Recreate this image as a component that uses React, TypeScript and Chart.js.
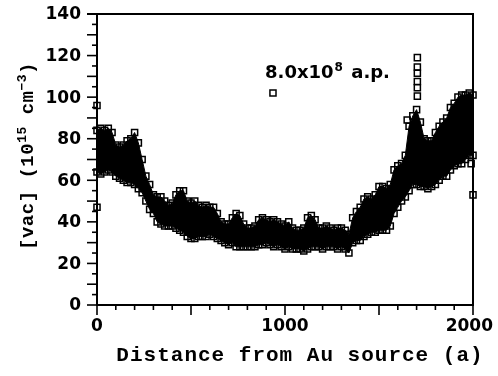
import { useEffect, useRef } from "react";
import { Chart, registerables } from "chart.js";

Chart.register(...registerables);

// Distance from Au source (a), sampled along the profile
const distance = [
  0, 20, 40, 60, 80, 100, 120, 140, 160, 180,
  200, 220, 240, 260, 280, 300, 320, 340, 360, 380,
  400, 420, 440, 460, 480, 500, 520, 540, 560, 580,
  600, 620, 640, 660, 680, 700, 720, 740, 760, 780,
  800, 820, 840, 860, 880, 900, 920, 940, 960, 980,
  1000, 1020, 1040, 1060, 1080, 1100, 1120, 1140, 1160, 1180,
  1200, 1220, 1240, 1260, 1280, 1300, 1320, 1340, 1360, 1380,
  1400, 1420, 1440, 1460, 1480, 1500, 1520, 1540, 1560, 1580,
  1600, 1620, 1640, 1660, 1680, 1700, 1720, 1740, 1760, 1780,
  1800, 1820, 1840, 1860, 1880, 1900, 1920, 1940, 1960, 1980,
  2000,
];

// Upper edge of the scatter band of [vac] (10^15 cm^-3)
const vacUpper = [
  84, 85, 84, 85, 83, 77, 76, 77, 79, 80,
  83, 78, 70, 62, 58, 53, 52, 52, 50, 48,
  49, 53, 55, 55, 50, 49, 50, 48, 47, 48,
  47, 47, 44, 40, 39, 39, 42, 44, 43, 39,
  37, 37, 38, 41, 42, 41, 40, 41, 40, 39,
  38, 40, 37, 36, 36, 37, 42, 43, 41, 37,
  37, 38, 37, 36, 37, 37, 36, 34, 42, 45,
  47, 51, 52, 51, 53, 57, 57, 56, 58, 65,
  67, 68, 72, 86, 91, 94, 88, 80, 79, 79,
  83, 86, 88, 90, 95, 97, 100, 101, 101, 102,
  101,
];

// Lower edge of the scatter band of [vac] (10^15 cm^-3)
const vacLower = [
  64, 63, 64, 65, 64, 62, 61, 60, 59, 59,
  58, 56, 54, 50, 46, 44, 40, 39, 38, 38,
  38, 37, 36, 35, 33, 32, 32, 33, 33, 33,
  34, 33, 32, 31, 30, 29, 30, 28, 28, 28,
  28, 28, 28, 29, 29, 30, 29, 28, 29, 28,
  27, 28, 27, 27, 27, 26, 27, 28, 28, 28,
  27, 28, 28, 28, 27, 28, 27, 25, 30, 31,
  31, 33, 34, 35, 35, 36, 36, 36, 38, 44,
  47, 50, 52, 55, 58, 58, 57, 57, 56, 57,
  58, 60, 62, 62, 65, 67, 68, 68, 70, 72,
  72,
];

// Isolated points outside the band
const outlierX = [0, 0, 1704, 1704, 1704, 1704, 1704, 1704, 1650, 1990, 2000];
const outlierY = [96, 47, 119, 114.5, 111.5, 107.5, 104.5, 100.5, 89, 68, 53];

// Legend sample square and its label
const legendMarkerX = [936];
const legendMarkerY = [102];
const legendTextMain = "8.0x10";
const legendTextSup = "8";
const legendTextTail = " a.p.";
const legendTextX = 894;
const legendTextY = 109;

// Axes
const xMin = 0;
const xMax = 2000;
const yMin = 0;
const yMax = 140;
const xTickLabels = [0, 1000, 2000];
const yTickLabels = [0, 20, 40, 60, 80, 100, 120, 140];
const xMinorStep = 100;
const xMajorStep = 500;
const yMinorStep = 5;
const yMajorStep = 10;
const xTitle = "Distance from Au source (a)";
const yTitleParts = [
  { text: "[vac] (10", sup: false },
  { text: "15", sup: true },
  { text: " cm", sup: false },
  { text: "\u22123", sup: true },
  { text: ")", sup: false },
];

const W = 498;
const H = 376;

const framePlugin = {
  id: "framePlugin",
  afterDraw(chart: any) {
    const { ctx, chartArea } = chart;
    const xs = chart.scales.x;
    const ys = chart.scales.y;
    const { left, right, top, bottom } = chartArea;
    ctx.save();
    ctx.strokeStyle = "#000";
    ctx.fillStyle = "#000";
    ctx.lineWidth = 2;
    ctx.lineCap = "square";
    // frame
    ctx.beginPath();
    ctx.moveTo(left - 9, top);
    ctx.lineTo(right, top);
    ctx.lineTo(right, bottom);
    ctx.lineTo(left, bottom);
    ctx.lineTo(left, top);
    ctx.stroke();

    ctx.lineWidth = 1.6;
    ctx.lineCap = "butt";
    // x ticks
    for (let v = xMin; v <= xMax; v += xMinorStep) {
      const px = xs.getPixelForValue(v);
      const len = v % xMajorStep === 0 ? 10 : 5;
      ctx.beginPath();
      ctx.moveTo(px, bottom);
      ctx.lineTo(px, bottom + len);
      ctx.stroke();
    }
    // y ticks
    for (let v = yMin; v <= yMax; v += yMinorStep) {
      const py = ys.getPixelForValue(v);
      const len = v % yMajorStep === 0 ? 10 : 5;
      ctx.beginPath();
      ctx.moveTo(left, py);
      ctx.lineTo(left - len, py);
      ctx.stroke();
    }

    // tick labels
    ctx.font = 'bold 17px "DejaVu Sans"';
    ctx.textBaseline = "middle";
    ctx.textAlign = "right";
    for (const v of yTickLabels) {
      ctx.fillText(String(v), left - 16, ys.getPixelForValue(v) + 1);
    }
    ctx.textAlign = "center";
    for (const v of xTickLabels) {
      const s = String(v);
      const w = ctx.measureText(s).width;
      let px = xs.getPixelForValue(v);
      px = Math.min(px, W - 5 - w / 2);
      ctx.fillText(s, px, bottom + 22);
    }

    // x title
    ctx.font = 'bold 21px "Liberation Mono"';
    (ctx as any).letterSpacing = "1px";
    ctx.textAlign = "center";
    ctx.textBaseline = "alphabetic";
    ctx.fillText(xTitle, 300, 361);

    // y title
    ctx.save();
    ctx.translate(27, 156);
    ctx.rotate(-Math.PI / 2);
    const normalFont = 'bold 19px "Liberation Mono"';
    const supFont = 'bold 13px "Liberation Mono"';
    (ctx as any).letterSpacing = "0.5px";
    let total = 0;
    const widths: number[] = [];
    for (const p of yTitleParts) {
      ctx.font = p.sup ? supFont : normalFont;
      const w = ctx.measureText(p.text).width;
      widths.push(w);
      total += w;
    }
    let cx = -total / 2;
    ctx.textAlign = "left";
    ctx.textBaseline = "alphabetic";
    yTitleParts.forEach((p, i) => {
      ctx.font = p.sup ? supFont : normalFont;
      ctx.fillText(p.text, cx, p.sup ? -1 : 6);
      cx += widths[i];
    });
    ctx.restore();

    // legend label
    (ctx as any).letterSpacing = "0px";
    ctx.textAlign = "left";
    ctx.textBaseline = "alphabetic";
    const lx = xs.getPixelForValue(legendTextX);
    const ly = ys.getPixelForValue(legendTextY);
    ctx.font = '600 18px "DejaVu Sans"';
    ctx.fillText(legendTextMain, lx, ly);
    let ox = lx + ctx.measureText(legendTextMain).width + 1;
    ctx.font = '600 12px "DejaVu Sans"';
    ctx.fillText(legendTextSup, ox, ly - 7);
    ox += ctx.measureText(legendTextSup).width + 2;
    ctx.font = '600 18px "DejaVu Sans"';
    ctx.fillText(legendTextTail, ox, ly);

    ctx.restore();
  },
};

const pointStyleOpts = {
  pointStyle: "rect",
  pointRadius: 4.3,
  pointBorderWidth: 1.5,
  pointBorderColor: "#000",
  pointBackgroundColor: "#fff",
  pointHoverRadius: 4.3,
};

export default function App() {
  const canvasRef = useRef<HTMLCanvasElement | null>(null);

  useEffect(() => {
    const canvas = canvasRef.current;
    if (!canvas) return;
    const upper = distance.map((x, i) => ({ x, y: vacUpper[i] }));
    const lower = distance.map((x, i) => ({ x, y: vacLower[i] }));
    const outliers = outlierX.map((x, i) => ({ x, y: outlierY[i] }));
    const legendPts = legendMarkerX.map((x, i) => ({ x, y: legendMarkerY[i] }));

    const chart = new Chart(canvas, {
      type: "line",
      data: {
        datasets: [
          {
            label: "upper",
            data: upper,
            fill: "+1",
            backgroundColor: "#000",
            borderColor: "#000",
            borderWidth: 1,
            tension: 0,
            clip: false,
            ...pointStyleOpts,
            pointBackgroundColor: "rgba(255,255,255,0)",
          } as any,
          {
            label: "lower",
            data: lower,
            fill: false,
            backgroundColor: "#000",
            borderColor: "#000",
            borderWidth: 1,
            tension: 0,
            clip: false,
            ...pointStyleOpts,
            pointBackgroundColor: "rgba(255,255,255,0)",
          } as any,
          {
            label: "outliers",
            data: outliers,
            showLine: false,
            fill: false,
            clip: false,
            ...pointStyleOpts,
          } as any,
          {
            label: "8.0x10^8 a.p.",
            data: legendPts,
            showLine: false,
            fill: false,
            clip: false,
            ...pointStyleOpts,
          } as any,
        ],
      },
      options: {
        animation: false,
        responsive: false,
        devicePixelRatio: 1,
        layout: { padding: { left: 97, top: 14, right: 25, bottom: 71 } },
        plugins: {
          legend: { display: false },
          tooltip: { enabled: false },
        },
        scales: {
          x: { type: "linear", min: xMin, max: xMax, display: false },
          y: { type: "linear", min: yMin, max: yMax, display: false },
        },
      },
      plugins: [framePlugin],
    });
    return () => chart.destroy();
  }, []);

  return (
    <div style={{ position: "fixed", left: 0, top: 0, width: W, height: H, background: "#fff" }}>
      <canvas ref={canvasRef} width={W} height={H} style={{ width: W, height: H }} />
    </div>
  );
}
